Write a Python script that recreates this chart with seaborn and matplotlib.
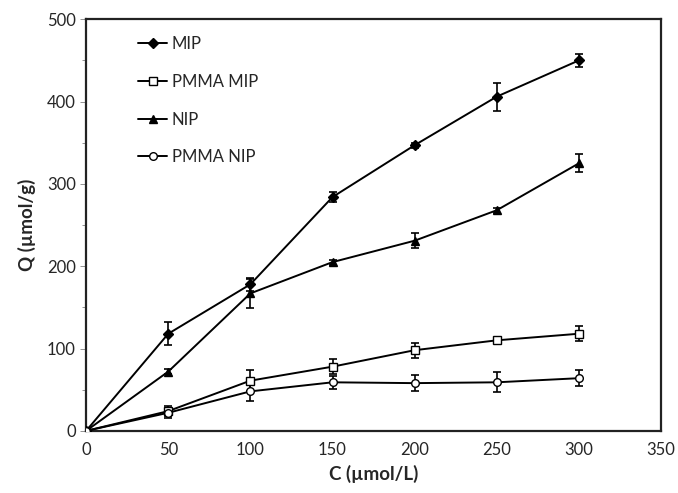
import seaborn as sns
import matplotlib.pyplot as plt
import pandas as pd
from matplotlib.ticker import MultipleLocator

# data
conc = [0, 50, 100, 150, 200, 250, 300]

mip = [0, 118, 178, 284, 347, 406, 450]
mip_err = [0, 14, 8, 6, 3, 17, 8]

pmma_mip = [0, 24, 61, 78, 98, 110, 118]
pmma_mip_err = [0, 6, 13, 9, 9, 3, 9]

nip = [0, 72, 167, 205, 231, 268, 325]
nip_err = [0, 3, 18, 3, 9, 3, 11]

pmma_nip = [0, 22, 48, 59, 58, 59, 64]
pmma_nip_err = [0, 6, 12, 8, 10, 12, 10]

series = [
    ("MIP", mip, mip_err, "D", "black"),
    ("PMMA MIP", pmma_mip, pmma_mip_err, "s", "white"),
    ("NIP", nip, nip_err, "^", "black"),
    ("PMMA NIP", pmma_nip, pmma_nip_err, "o", "white"),
]

sns.set_style("ticks")
plt.rcParams['font.family'] = ['Lato', 'DejaVu Sans']

fig = plt.figure(figsize=(6.78, 4.93), dpi=100)
ax = fig.add_axes([0.127, 0.126, 0.848, 0.835])

for name, vals, errs, mk, fc in series:
    df = pd.DataFrame({"C": conc, "Q": vals})
    ax.errorbar(conc, vals, yerr=errs, fmt="none", ecolor="black",
                elinewidth=1.2, capsize=3, capthick=1.2, zorder=2)
    sns.lineplot(data=df, x="C", y="Q", ax=ax, color="black", linewidth=1.4,
                 marker=mk, markersize=5.5 if mk != "D" else 5,
                 markerfacecolor=fc, markeredgecolor="black",
                 markeredgewidth=1, label=name, zorder=3)

ax.set_xlim(0, 350)
ax.set_ylim(0, 500)
ax.xaxis.set_major_locator(MultipleLocator(50))
ax.yaxis.set_major_locator(MultipleLocator(100))
ax.yaxis.set_minor_locator(MultipleLocator(50))
ax.tick_params(axis="x", length=0, labelsize=12, pad=8)
ax.tick_params(axis="y", which="major", length=4, width=0.6, color="gray", labelsize=12)
ax.tick_params(axis="y", which="minor", length=3, width=0.6, color="gray")
for sp in ax.spines.values():
    sp.set_linewidth(1.6)
    sp.set_color("#222222")
    sp.set_visible(True)

ax.set_xlabel("C (µmol/L)", fontsize=13.5, fontweight="bold", labelpad=5)
ax.set_ylabel("Q (µmol/g)", fontsize=13.5, fontweight="bold", labelpad=8)

ax.legend(loc="upper left", bbox_to_anchor=(0.065, 0.995), frameon=False,
          fontsize=12, labelspacing=1.3, handlelength=1.7, handletextpad=0.3)

plt.savefig("out.png", dpi=100)
